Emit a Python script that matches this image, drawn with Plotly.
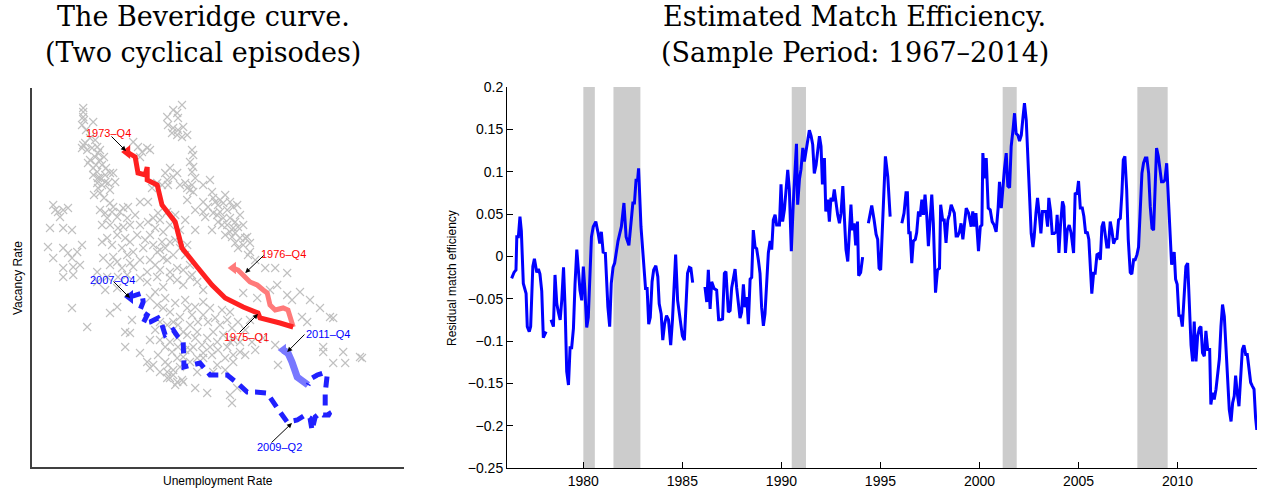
import plotly.graph_objects as go

W, H = 1262, 493

# ---------------- Left panel: Beveridge curve (unemployment %, vacancy %) ----------------
scatter_groups_u = [
    [3.78, 3.78, 3.78, 3.80, 3.75, 3.78, 3.75, 4.03],
    [3.83, 3.88, 4.00, 4.13, 4.15, 4.08, 3.95, 4.20, 4.25, 4.03, 4.13, 4.15, 4.33, 4.25, 4.40, 4.15, 4.20, 4.53, 3.90, 4.03, 4.13, 4.45, 4.33],
    [5.03, 5.15, 5.25, 5.38, 5.45, 5.20],
    [5.88, 6.03, 6.13, 6.25, 6.15, 5.90, 6.03, 6.15, 6.28, 6.38, 6.13, 6.00, 6.25],
    [6.50, 6.53, 6.45, 6.53, 6.50, 6.58, 6.50, 6.53, 6.45],
    [5.20, 5.40, 5.83, 5.95, 6.13, 5.88, 5.75, 5.90, 6.03, 5.63, 5.50, 6.20, 6.33, 6.38],
    [6.78, 6.95, 7.00, 6.78, 6.90, 7.08, 7.20, 7.28, 7.45, 7.53, 7.38, 7.20, 7.03, 6.83, 6.78, 7.28, 7.45, 7.58, 7.65, 7.53, 7.38, 7.78, 7.88, 7.70, 7.58, 7.50, 7.65, 7.83, 7.13, 7.25, 7.45],
    [7.95, 8.33, 8.58, 8.88, 7.90],
    [3.03, 3.15, 3.28, 3.40, 2.95, 3.28, 3.50, 2.90, 3.03, 3.28, 3.40, 3.50, 3.63, 3.75, 3.70, 3.53, 3.28, 3.08, 3.20],
    [4.20, 4.45, 4.50, 4.63, 4.38, 4.25, 4.45, 4.65, 4.78, 4.95, 4.63, 4.38, 4.25, 4.50, 4.75, 4.95, 5.03, 4.88, 4.53, 4.28, 4.45, 4.75, 5.03, 5.28, 5.40, 5.53, 5.65, 5.58, 5.45, 5.78, 5.95, 5.75, 5.63, 5.45, 5.78, 6.03, 6.20, 6.13, 6.28, 5.95, 5.70, 5.38, 5.20, 4.88, 4.65, 4.38, 4.13, 5.95, 5.88, 4.90, 4.78, 4.53],
    [3.28, 3.53, 4.13, 4.33, 4.63, 5.38, 5.63, 5.78, 5.95, 6.13, 6.28, 6.45, 6.63, 6.78],
    [3.50, 3.88, 4.45, 4.63, 4.83, 4.83, 4.95, 5.00],
    [5.45, 5.63, 5.78, 5.95, 5.70, 5.88, 6.03, 6.20, 6.38, 6.58, 6.78, 6.95, 6.78, 6.65, 6.45, 6.28, 6.13, 5.95, 5.83, 6.00, 6.15, 6.33, 6.53, 6.75, 6.88, 7.03, 7.20, 7.38, 7.50, 7.28, 7.13, 6.95, 6.78, 6.63, 6.45, 6.28, 6.13, 6.20, 6.03, 5.88, 5.95, 6.25, 6.78, 7.00, 7.15, 7.38, 7.53, 7.70, 7.13, 7.33, 7.53, 6.63, 7.03, 5.20, 5.38, 5.53, 5.45],
    [7.78, 8.13, 8.45, 8.63, 8.88, 9.00, 9.20, 9.45, 9.25, 9.38, 9.70, 9.95, 10.03, 9.78, 9.78, 10.03, 10.33, 10.28, 10.70, 10.75, 8.65, 8.58, 8.28, 8.00, 7.70, 7.53, 7.45],
    [6.58, 6.88, 7.45, 7.50, 7.63, 5.88, 6.13, 6.28, 6.03, 5.90],
    [3.85, 3.95, 4.08, 4.20, 4.30, 4.10, 4.35, 4.20, 4.45, 4.30, 4.05, 4.58],
    [4.33, 4.70, 4.88, 5.08, 5.20, 5.13, 4.83, 5.33, 5.53, 5.70, 5.88, 5.20, 4.95, 4.63, 5.58, 5.83, 6.08, 6.33, 6.45, 6.50, 6.38, 5.70, 6.08, 6.33, 6.20, 6.58, 6.58, 6.38],
    [7.03, 7.15, 7.33, 7.63, 7.70, 7.15, 7.00, 7.33, 7.58, 7.78, 7.95, 8.08],
    [5.58, 5.83, 6.08, 6.33, 6.50, 6.15, 6.38, 6.58, 6.90, 7.08, 7.25, 7.45, 7.65, 7.83, 7.95, 5.70, 5.58, 5.45, 5.65, 5.83, 6.45, 6.63, 7.33, 7.83, 8.08, 5.70, 6.08],
]
scatter_groups_v = [
    [4.09, 4.05, 4.00, 3.97, 3.92, 3.72, 3.69, 3.95],
    [3.74, 3.67, 3.69, 3.70, 3.64, 3.60, 3.57, 3.57, 3.52, 3.49, 3.45, 3.39, 3.35, 3.32, 3.34, 3.29, 3.24, 3.44, 3.54, 3.42, 3.34, 3.44, 3.42],
    [3.75, 3.70, 3.65, 3.69, 3.67, 3.60],
    [4.00, 4.07, 4.04, 4.12, 3.99, 3.92, 3.89, 3.87, 3.90, 3.82, 3.82, 3.84, 3.80],
    [3.67, 3.62, 3.55, 3.50, 3.45, 3.39, 3.32, 3.25, 3.27],
    [3.15, 3.15, 3.44, 3.49, 3.44, 3.37, 3.32, 3.32, 3.40, 3.34, 3.29, 3.32, 3.34, 3.29],
    [3.32, 3.37, 3.25, 3.15, 3.10, 3.15, 3.17, 3.14, 3.15, 3.10, 3.07, 3.05, 3.04, 3.00, 3.05, 2.99, 2.99, 2.95, 2.90, 2.89, 2.92, 2.92, 2.80, 2.79, 2.74, 2.80, 2.69, 2.79, 3.02, 2.92, 2.85],
    [2.65, 2.49, 2.49, 2.44, 2.62],
    [3.12, 3.05, 3.07, 3.09, 2.89, 2.89, 2.87, 2.70, 2.59, 2.69, 2.64, 2.59, 2.65, 2.72, 2.52, 2.50, 2.49, 3.07, 3.00],
    [3.07, 3.14, 3.05, 3.00, 2.99, 2.92, 2.92, 2.89, 2.90, 2.92, 2.82, 2.79, 2.75, 2.72, 2.69, 2.75, 2.65, 2.62, 2.60, 2.59, 2.52, 2.49, 2.50, 2.69, 2.95, 2.99, 3.04, 2.89, 2.82, 2.85, 2.75, 2.75, 2.65, 2.57, 2.59, 2.62, 2.69, 2.49, 2.47, 2.45, 2.47, 2.45, 2.39, 2.42, 2.40, 2.40, 2.45, 2.92, 3.05, 3.10, 3.09, 3.10],
    [2.40, 2.42, 2.35, 2.27, 2.29, 2.35, 2.40, 2.30, 2.39, 2.37, 2.32, 2.40, 2.35, 2.27],
    [2.09, 1.90, 2.04, 2.10, 1.85, 1.70, 1.84, 1.97],
    [2.19, 2.12, 2.09, 2.05, 1.95, 1.92, 1.95, 2.00, 2.09, 2.10, 2.15, 2.09, 2.02, 1.95, 1.92, 1.85, 1.79, 1.75, 1.70, 1.65, 1.70, 1.67, 1.70, 1.72, 1.79, 1.85, 1.92, 1.97, 1.89, 1.82, 1.75, 1.70, 1.64, 1.59, 1.55, 1.60, 1.59, 1.50, 1.42, 1.45, 1.39, 1.37, 1.59, 1.62, 1.67, 1.70, 1.77, 1.75, 1.52, 1.47, 1.55, 1.45, 1.45, 1.64, 1.55, 1.52, 1.49],
    [2.24, 2.19, 2.27, 2.32, 2.22, 2.17, 2.25, 2.17, 2.00, 1.95, 2.09, 2.00, 1.99, 1.70, 1.65, 1.54, 1.54, 1.65, 1.60, 1.59, 1.52, 1.72, 1.79, 1.75, 1.65, 1.62, 1.75],
    [1.29, 1.24, 1.22, 1.14, 1.29, 1.39, 1.35, 1.35, 1.47, 1.52],
    [3.87, 3.79, 3.77, 3.67, 3.60, 3.52, 3.49, 3.39, 3.27, 3.19, 3.22, 3.35],
    [3.04, 3.05, 2.99, 3.02, 2.92, 2.82, 2.79, 2.77, 2.72, 2.67, 2.57, 2.57, 2.54, 2.55, 2.52, 2.69, 2.77, 2.62, 2.52, 2.42, 2.72, 2.97, 3.02, 2.97, 2.87, 2.87, 3.07, 3.17],
    [3.19, 3.12, 3.22, 3.12, 3.02, 2.95, 2.87, 2.82, 2.84, 2.72, 2.74, 2.57],
    [2.25, 2.19, 2.14, 2.17, 2.02, 1.92, 1.82, 1.79, 1.95, 1.99, 2.07, 2.05, 1.95, 1.87, 1.97, 1.77, 1.87, 1.77, 1.62, 1.55, 1.67, 1.85, 1.59, 1.62, 1.67, 1.45, 1.32],
]

# 1973-Q4 .. 1975-Q1 (and on to the turning point)
ep1_u = [4.88, 5.08, 5.15, 5.33, 5.38, 5.38, 5.63, 5.75, 6.08, 6.15, 6.25, 6.63, 6.88, 7.00, 7.33, 7.78, 8.15, 8.20, 8.70, 9.03]
ep1_v = [3.65, 3.60, 3.44, 3.42, 3.50, 3.37, 3.32, 3.12, 2.95, 2.85, 2.69, 2.50, 2.37, 2.32, 2.19, 2.10, 2.04, 1.99, 1.94, 1.90]
# recovery to 1976-Q4
ep1b_u = [9.03, 8.90, 8.78, 8.58, 8.45, 8.38, 8.28, 8.13, 7.95, 7.78, 7.65, 7.53]
ep1b_v = [1.90, 2.07, 2.09, 2.07, 2.12, 2.24, 2.27, 2.32, 2.35, 2.41, 2.47, 2.49]
# 2007-Q4 .. 2009-Q2 and beyond
ep2_u = [4.95, 5.13, 5.25, 5.28, 5.20, 5.38, 5.28, 5.45, 5.65, 5.75, 5.83, 6.03, 6.15, 6.28, 6.30, 6.50, 6.70, 6.95, 7.38, 7.63, 7.88, 8.08, 8.38, 8.63, 8.88, 9.13, 9.33, 9.45, 9.50, 9.58, 9.70, 9.78, 9.95, 9.83, 9.83, 9.88, 9.78, 9.63, 9.50, 9.40]
ep2_v = [2.20, 2.22, 2.24, 2.15, 2.07, 2.02, 1.94, 1.95, 1.99, 1.92, 1.82, 1.87, 1.80, 1.75, 1.50, 1.52, 1.54, 1.42, 1.42, 1.34, 1.25, 1.25, 1.24, 1.09, 0.95, 0.97, 1.02, 0.99, 0.87, 1.00, 1.04, 1.02, 1.02, 1.10, 1.24, 1.42, 1.44, 1.42, 1.39, 1.32]
# on to 2011-Q4
ep2b_u = [9.40, 9.33, 9.13, 9.00, 8.90, 8.78]
ep2b_v = [1.32, 1.34, 1.40, 1.55, 1.64, 1.67]

# labels: text, colour, text pos (u, v), arrow tail (u, v), arrow head (u, v)
label_text = ["1973\u2013Q4", "1976\u2013Q4", "1975\u2013Q1", "2007\u2013Q4", "2011\u2013Q4", "2009\u2013Q2"]
label_color = ["#ff0000", "#ff0000", "#ff0000", "#0000ff", "#0000ff", "#0000ff"]
label_pos_u = [4.40, 8.78, 7.85, 4.50, 9.90, 8.68]
label_pos_v = [3.84, 2.63, 1.80, 2.37, 1.83, 0.70]
arrow_tail_u = [4.45, 8.33, 7.65, 4.50, 9.35, 8.45]
arrow_tail_v = [3.82, 2.63, 1.83, 2.37, 1.84, 0.73]
arrow_head_u = [4.85, 7.83, 8.15, 4.95, 8.88, 9.00]
arrow_head_v = [3.66, 2.44, 2.03, 2.19, 1.65, 0.94]

# ---------------- Right panel: residual match efficiency ----------------
years = [
    1976.38, 1976.50, 1976.60, 1976.64, 1976.72, 1976.80, 1976.87, 1976.97, 1977.11, 1977.17, 1977.27, 1977.34, 1977.45, 1977.53, 1977.65, 1977.73, 1977.81, 1977.90, 1977.98, 1978.12,
    1978.25,
    1978.37, 1978.49, 1978.57, 1978.66, 1978.74, 1978.83, 1978.91, 1979.00, 1979.08, 1979.16, 1979.25, 1979.33, 1979.41, 1979.50, 1979.58, 1979.67, 1979.75, 1979.83, 1979.92, 1980.00,
    1980.08, 1980.17, 1980.25, 1980.33, 1980.41, 1980.50, 1980.63, 1980.75, 1980.83, 1980.91, 1981.00, 1981.11, 1981.16, 1981.24, 1981.33, 1981.41, 1981.50, 1981.58, 1981.75, 1981.92,
    1982.05, 1982.16, 1982.30, 1982.41, 1982.50, 1982.58, 1982.66, 1982.74, 1982.79, 1982.91, 1983.06, 1983.14, 1983.22, 1983.30, 1983.38, 1983.47, 1983.55, 1983.66, 1983.76, 1983.83,
    1983.93, 1984.01, 1984.10, 1984.20, 1984.30, 1984.41, 1984.50, 1984.58, 1984.66, 1984.76, 1984.88, 1985.00, 1985.10, 1985.18, 1985.26, 1985.35, 1985.43, 1985.52,
    1985.80,
    1986.14, 1986.23, 1986.31, 1986.40, 1986.48, 1986.60, 1986.73, 1986.83, 1986.93, 1987.03, 1987.12, 1987.20, 1987.32, 1987.41, 1987.49, 1987.57, 1987.66, 1987.74, 1987.83, 1987.91,
    1987.99, 1988.08, 1988.16, 1988.25, 1988.33, 1988.42, 1988.50, 1988.58, 1988.67, 1988.75, 1988.84, 1988.92, 1989.00, 1989.09, 1989.17, 1989.26, 1989.34, 1989.43, 1989.51, 1989.59,
    1989.68, 1989.76, 1989.90, 1989.98, 1990.06, 1990.15, 1990.23, 1990.32, 1990.40, 1990.50, 1990.60, 1990.69, 1990.76, 1990.82, 1990.91, 1990.99, 1991.08, 1991.16, 1991.24, 1991.31,
    1991.41, 1991.50, 1991.58, 1991.66, 1991.75, 1991.83, 1991.92, 1992.00, 1992.07, 1992.17, 1992.24, 1992.34, 1992.42, 1992.50, 1992.59, 1992.67, 1992.76, 1992.84, 1992.93, 1993.01,
    1993.10, 1993.18, 1993.26, 1993.35, 1993.43, 1993.51, 1993.58, 1993.67, 1993.75, 1993.84, 1993.90, 1994.00, 1994.10,
    1994.25,
    1994.39, 1994.56, 1994.68, 1994.78, 1994.86, 1994.93, 1995.01, 1995.12, 1995.25, 1995.37, 1995.49,
    1995.80,
    1996.08, 1996.19, 1996.29, 1996.36, 1996.43, 1996.50, 1996.58, 1996.66, 1996.76, 1996.83, 1996.92, 1997.00, 1997.09, 1997.17, 1997.25, 1997.34, 1997.42, 1997.51, 1997.59, 1997.67,
    1997.78, 1997.88, 1997.98, 1998.04, 1998.14, 1998.22, 1998.31, 1998.40, 1998.48, 1998.57, 1998.65, 1998.73, 1998.82, 1998.90, 1998.99, 1999.07, 1999.16, 1999.24, 1999.33, 1999.45,
    1999.58, 1999.66, 1999.74, 1999.82, 1999.95, 2000.04, 2000.12, 2000.17, 2000.25, 2000.34, 2000.44, 2000.54, 2000.64, 2000.74, 2000.84, 2000.94, 2001.01, 2001.10, 2001.18, 2001.26,
    2001.35, 2001.43, 2001.52, 2001.60, 2001.69, 2001.77, 2001.85, 2001.94, 2002.02, 2002.11, 2002.19, 2002.27, 2002.36, 2002.44, 2002.53, 2002.61, 2002.70, 2002.76, 2002.85, 2002.93,
    2003.01, 2003.10, 2003.18, 2003.26, 2003.35, 2003.44, 2003.50, 2003.59, 2003.67, 2003.77, 2003.87, 2003.92, 2004.01, 2004.09, 2004.19, 2004.26, 2004.34, 2004.43, 2004.53, 2004.63,
    2004.75, 2004.83, 2004.92, 2005.00, 2005.09, 2005.19, 2005.27, 2005.36, 2005.44, 2005.52, 2005.60, 2005.67, 2005.76, 2005.84, 2005.93, 2006.01, 2006.10, 2006.18, 2006.26, 2006.35,
    2006.43, 2006.51, 2006.60, 2006.68, 2006.77, 2006.85, 2006.94, 2007.02, 2007.11, 2007.19, 2007.26, 2007.34, 2007.43, 2007.51, 2007.61, 2007.69, 2007.78, 2007.86, 2007.95, 2008.03,
    2008.12, 2008.20, 2008.28, 2008.37, 2008.45, 2008.54, 2008.62, 2008.71, 2008.79, 2008.86, 2008.94, 2009.03, 2009.11, 2009.19, 2009.28, 2009.36, 2009.45, 2009.53, 2009.61, 2009.70,
    2009.77, 2009.83, 2009.90, 2009.98, 2010.07, 2010.15, 2010.24, 2010.34, 2010.42, 2010.51, 2010.59, 2010.68, 2010.76, 2010.84, 2010.93, 2011.01, 2011.10, 2011.18, 2011.26, 2011.35,
    2011.43, 2011.52, 2011.62, 2011.68, 2011.77, 2011.85, 2011.94, 2012.02, 2012.11, 2012.19, 2012.27, 2012.36, 2012.44, 2012.53, 2012.61, 2012.70, 2012.78, 2012.86, 2012.93, 2013.01,
    2013.10, 2013.18, 2013.27, 2013.35, 2013.44, 2013.52, 2013.60, 2013.69, 2013.77, 2013.86, 2013.94, 2014.00,
]
efficiency = [
    -0.026, -0.019, -0.016, 0.023, 0.023, 0.047, 0.030, -0.032, -0.044, -0.083, -0.089, -0.083, -0.012, -0.003, -0.019, -0.015, -0.021, -0.041, -0.096, -0.089,
    None,
    -0.075, -0.083, -0.022, -0.056, -0.066, -0.075, -0.052, -0.013, -0.061, -0.136, -0.152, -0.108, -0.108, -0.085, -0.033, 0.008, -0.016, -0.040, -0.052, -0.012,
    -0.040, -0.084, -0.072, -0.030, 0.023, 0.035, 0.041, 0.027, 0.015, 0.029, 0.005, 0.004, -0.020, -0.060, -0.083, -0.032, -0.013, -0.008, 0.018, 0.035,
    0.063, 0.023, 0.013, 0.039, 0.063, 0.063, 0.090, 0.090, 0.104, 0.035, -0.016, -0.038, -0.038, -0.080, -0.072, -0.030, -0.016, -0.011, -0.024, -0.056,
    -0.068, -0.099, -0.080, -0.070, -0.075, -0.105, -0.075, -0.030, 0.002, -0.052, -0.072, -0.094, -0.099, -0.060, -0.020, -0.013, -0.014, -0.031,
    None,
    -0.036, -0.054, -0.016, -0.062, -0.030, -0.038, -0.040, -0.075, -0.075, -0.074, -0.020, -0.018, -0.066, -0.064, -0.037, -0.027, -0.015, -0.037, -0.056, -0.073,
    -0.066, -0.033, -0.060, -0.048, -0.080, -0.027, -0.025, 0.031, 0.011, 0.009, -0.005, -0.020, -0.060, -0.082, -0.068, -0.020, 0.004, 0.018, 0.008, 0.043,
    0.049, 0.037, 0.037, 0.085, 0.041, 0.055, 0.079, 0.102, 0.079, 0.006, 0.063, 0.098, 0.133, 0.061, 0.091, 0.103, 0.128, 0.112, 0.124, 0.134,
    0.149, 0.142, 0.132, 0.098, 0.108, 0.124, 0.142, 0.130, 0.085, 0.116, 0.053, 0.067, 0.041, 0.069, 0.065, 0.079, 0.059, 0.049, 0.039, 0.051,
    0.083, 0.039, 0.008, -0.006, 0.031, 0.061, 0.031, 0.039, 0.013, 0.041, -0.023, -0.019, -0.001,
    None,
    0.039, 0.060, 0.043, 0.026, 0.020, -0.014, -0.016, 0.051, 0.118, 0.094, 0.047,
    None,
    0.039, 0.051, 0.075, 0.075, 0.028, 0.028, -0.008, 0.018, 0.020, 0.028, 0.053, 0.047, 0.067, 0.049, 0.073, 0.047, 0.012, 0.051, 0.073, 0.039,
    -0.043, -0.016, -0.014, 0.061, 0.043, 0.043, 0.016, 0.043, 0.049, 0.061, 0.055, 0.051, 0.024, 0.024, 0.029, 0.039, 0.020, 0.035, 0.057, 0.051,
    0.035, 0.053, 0.035, 0.051, 0.006, 0.035, 0.037, 0.122, 0.092, 0.116, 0.057, 0.055, 0.041, 0.037, 0.029, 0.057, 0.088, 0.057, 0.087, 0.103,
    0.122, 0.083, 0.081, 0.130, 0.149, 0.169, 0.145, 0.143, 0.136, 0.143, 0.163, 0.181, 0.161, 0.122, 0.063, 0.027, 0.011, 0.023, 0.051, 0.069,
    0.051, 0.027, 0.053, 0.053, 0.053, 0.035, 0.069, 0.053, 0.027, 0.027, 0.029, 0.049, 0.004, 0.037, 0.065, 0.059, 0.004, 0.031, 0.037, 0.027,
    0.004, 0.075, 0.073, 0.089, 0.057, 0.057, 0.047, 0.027, 0.029, 0.020, -0.012, -0.044, -0.020, -0.020, 0.002, 0.003, -0.004, 0.035, 0.041, 0.027,
    0.011, 0.011, 0.041, 0.031, 0.015, 0.020, 0.021, 0.043, 0.045, 0.075, 0.114, 0.118, 0.079, 0.020, -0.019, -0.021, -0.004, -0.004, 0.002, 0.011,
    0.051, 0.098, 0.110, 0.116, 0.116, 0.098, 0.059, 0.033, 0.031, 0.079, 0.128, 0.118, 0.104, 0.088, 0.088, 0.090, 0.110, 0.075, 0.031, -0.010,
    -0.001, 0.005, -0.027, -0.033, -0.071, -0.069, -0.083, -0.036, -0.012, -0.008, -0.063, -0.105, -0.124, -0.077, -0.124, -0.095, -0.085, -0.083, -0.114, -0.118,
    -0.088, -0.110, -0.110, -0.175, -0.161, -0.169, -0.157, -0.141, -0.121, -0.083, -0.057, -0.071, -0.110, -0.150, -0.181, -0.195, -0.173, -0.165, -0.141, -0.161,
    -0.177, -0.145, -0.110, -0.105, -0.116, -0.116, -0.133, -0.149, -0.153, -0.157, -0.191, -0.205,
]

recession_start = [1980.00, 1981.52, 1990.52, 2001.17, 2007.97]
recession_end = [1980.58, 1982.88, 1991.24, 2001.88, 2009.50]

y_ticks = [0.2, 0.15, 0.1, 0.05, 0, -0.05, -0.1, -0.15, -0.2, -0.25]
y_tick_text = ["0.2", "0.15", "0.1", "0.05", "0", "\u22120.05", "\u22120.1", "\u22120.15", "\u22120.2", "\u22120.25"]
x_ticks = [1980, 1985, 1990, 1995, 2000, 2005, 2010]

# ---------------- Figure ----------------
fig = go.Figure()

scat_u = [u for g in scatter_groups_u for u in g]
scat_v = [v for g in scatter_groups_v for v in g]
fig.add_trace(go.Scatter(
    x=scat_u, y=scat_v, mode="markers", xaxis="x", yaxis="y",
    marker=dict(symbol="x-thin", size=8, line=dict(width=1.1, color="#c0c0c0"), color="#c0c0c0"),
    hoverinfo="skip"))

fig.add_trace(go.Scatter(x=ep1b_u, y=ep1b_v, mode="lines", xaxis="x", yaxis="y",
                         line=dict(color="#ff7a7a", width=5)))
fig.add_trace(go.Scatter(x=ep1_u, y=ep1_v, mode="lines", xaxis="x", yaxis="y",
                         line=dict(color="#ff2020", width=5)))
fig.add_trace(go.Scatter(x=ep2b_u, y=ep2b_v, mode="lines", xaxis="x", yaxis="y",
                         line=dict(color="#7878ff", width=7)))
fig.add_trace(go.Scatter(x=ep2_u, y=ep2_v, mode="lines", xaxis="x", yaxis="y",
                         line=dict(color="#2020ff", width=5, dash="11px,7px")))

# start/end markers of the episodes
fig.add_trace(go.Scatter(x=[ep1_u[0]], y=[ep1_v[0]], mode="markers", xaxis="x", yaxis="y",
                         marker=dict(symbol="triangle-left", size=12, color="#ff2020")))
fig.add_trace(go.Scatter(x=[ep1b_u[-1]], y=[ep1b_v[-1]], mode="markers", xaxis="x", yaxis="y",
                         marker=dict(symbol="triangle-left", size=11, color="#ff7a7a")))
fig.add_trace(go.Scatter(x=[ep2_u[0]], y=[ep2_v[0]], mode="markers", xaxis="x", yaxis="y",
                         marker=dict(symbol="triangle-left", size=12, color="#2020ff")))
fig.add_trace(go.Scatter(x=[ep2b_u[-1]], y=[ep2b_v[-1]], mode="markers", xaxis="x", yaxis="y",
                         marker=dict(symbol="triangle-left", size=11, color="#7878ff")))

fig.add_trace(go.Scatter(x=years, y=efficiency, mode="lines", xaxis="x2", yaxis="y2",
                         connectgaps=False, line=dict(color="#0000ff", width=3)))

shapes = []
for s, e in zip(recession_start, recession_end):
    shapes.append(dict(type="rect", xref="x2", yref="y2", x0=s, x1=e, y0=-0.25, y1=0.2,
                       fillcolor="#cccccc", line=dict(width=0), layer="below"))

annotations = []
for t, c, pu, pv, tu, tv, hu, hv in zip(label_text, label_color, label_pos_u, label_pos_v,
                                        arrow_tail_u, arrow_tail_v, arrow_head_u, arrow_head_v):
    annotations.append(dict(x=hu, y=hv, ax=tu, ay=tv, xref="x", yref="y", axref="x", ayref="y",
                            text="", showarrow=True, arrowhead=2, arrowsize=1, arrowwidth=1,
                            arrowcolor="#000000", standoff=0, startstandoff=0))
    annotations.append(dict(x=pu, y=pv, xref="x", yref="y", text=t, showarrow=False,
                            font=dict(family="Liberation Sans, Arial", size=11, color=c),
                            xanchor="center", yanchor="middle"))

title_font = dict(family="DejaVu Serif", size=27, color="#000000")
for txt, xc, yc in [("The Beveridge curve.", 203, 17), ("(Two cyclical episodes)", 203, 52),
                    ("Estimated Match Efficiency.", 855, 17), ("(Sample Period: 1967\u20132014)", 855, 52)]:
    annotations.append(dict(x=xc / W, y=1 - yc / H, xref="paper", yref="paper", text=txt,
                            showarrow=False, font=title_font, xanchor="center", yanchor="middle"))

label_font = dict(family="Liberation Sans, Arial", size=12, color="#000000")
annotations.append(dict(x=218 / W, y=1 - 481 / H, xref="paper", yref="paper", text="Unemployment Rate",
                        showarrow=False, font=label_font, xanchor="center", yanchor="middle"))
annotations.append(dict(x=18 / W, y=1 - 278 / H, xref="paper", yref="paper", text="Vacancy Rate",
                        showarrow=False, font=label_font, xanchor="center", yanchor="middle", textangle=-90))
annotations.append(dict(x=452 / W, y=1 - 278 / H, xref="paper", yref="paper", text="Residual match efficiency",
                        showarrow=False, font=label_font, xanchor="center", yanchor="middle", textangle=-90))

fig.update_layout(
    template="none",
    width=W, height=H, margin=dict(l=0, r=0, t=0, b=0, pad=0, autoexpand=False),
    paper_bgcolor="white", plot_bgcolor="white", showlegend=False,
    xaxis=dict(domain=[32 / W, 404 / W], range=[2.5, 11.8], showline=True, linecolor="#404040",
               linewidth=2, showgrid=False, zeroline=False, showticklabels=False, ticks="",
               anchor="y", automargin=False),
    yaxis=dict(domain=[26 / H, 405 / H], range=[0.5, 4.29], showline=True, linecolor="#404040",
               linewidth=2, showgrid=False, zeroline=False, showticklabels=False, ticks="",
               anchor="x", automargin=False),
    xaxis2=dict(domain=[507 / W, 1257 / W], range=[1976.146, 2014.01], showline=True,
                linecolor="#000000", linewidth=1, showgrid=False, zeroline=False,
                tickvals=x_ticks, ticks="inside", ticklen=6, tickcolor="#000000",
                tickfont=dict(family="Liberation Sans, Arial", size=14, color="#000000"),
                anchor="y2", automargin=False),
    yaxis2=dict(domain=[25 / H, 406 / H], range=[-0.25, 0.2], showline=True,
                linecolor="#000000", linewidth=1, showgrid=False, zeroline=False,
                tickvals=y_ticks, ticktext=y_tick_text, ticks="inside", ticklen=6,
                tickcolor="#000000",
                tickfont=dict(family="Liberation Sans, Arial", size=14, color="#000000"),
                anchor="x2", automargin=False),
    shapes=shapes, annotations=annotations,
)

fig.write_html("out.html", config={"displayModeBar": False},
               post_script="document.body.style.margin='0';document.body.style.overflow='hidden';")
